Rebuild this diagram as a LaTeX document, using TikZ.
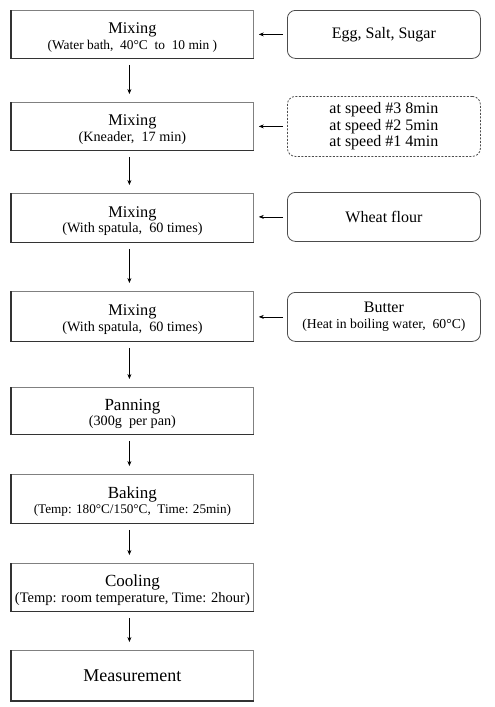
\documentclass[tikz,border=0pt]{standalone}
\usepackage{fontspec}
\setmainfont{Liberation Serif}
\usetikzlibrary{arrows.meta}
\begin{document}
\begin{tikzpicture}[x=1pt,y=-1pt,
  lbox/.style={draw=black!50,line width=0.8pt,minimum width=242pt,inner sep=0pt,align=center,anchor=north west,
    font=\fontsize{14.2}{15.5}\selectfont},
  rbox/.style={draw=black!70,line width=0.8pt,rounded corners=8pt,minimum width=193pt,inner sep=0pt,align=center,anchor=north west,
    font=\fontsize{16}{16.5}\selectfont},
  edge/.style={draw=black!80,line width=1.1pt},
  flow/.style={-{Stealth[length=5pt,width=4pt]},line width=0.6pt},
]
\useasboundingbox (0,0) rectangle (495,707);
\newcommand{\T}[1]{{\fontsize{17}{17}\selectfont\rule{0pt}{17pt}#1}}
\newcommand{\Tm}[1]{{\fontsize{16.3}{17}\selectfont\rule{0pt}{17pt}#1}}
% left boxes
\node[lbox,minimum height=48pt] (L1) at (11,10) {\Tm{Mixing}\\\fontsize{13.4}{16}\selectfont (Water bath,\ \ 40°C\ \ to\ \ 10 min )};
\node[lbox,minimum height=48pt] (L2) at (11,102) {\Tm{Mixing}\\(Kneader,\ \ 17 min)};
\node[lbox,minimum height=49pt] (L3) at (11,193) {\Tm{Mixing}\\(With spatula,\ \ 60 times)};
\node[lbox,minimum height=50pt] (L4) at (11,291) {\Tm{Mixing}\\(With spatula,\ \ 60 times)};
\node[lbox,minimum height=47pt] (L5) at (11,387) {\T{Panning}\\(300g\ \ per pan)};
\node[lbox,minimum height=49pt] (L6) at (11,474) {\T{Baking}\\\fontsize{13.2}{15}\selectfont (Temp: 180°C/150°C,\ \ Time: 25min)};
\node[lbox,minimum height=48pt] (L7) at (11,563) {\T{Cooling}\\\fontsize{14.5}{15.5}\selectfont (Temp: room temperature, Time: 2hour)};
\node[lbox,minimum height=50pt] (L8) at (11,650) {{\fontsize{18}{19}\selectfont Measurement}};
\foreach \n in {L1,L2,L3,L4,L5,L6,L7}
  \draw[edge] (\n.north west) -- (\n.south west) -- (\n.south east);
\draw[edge,line width=2pt] (L8.north west) -- (L8.south west) -- (L8.south east);
% right boxes
\node[rbox,minimum height=48pt] (R1) at (287,10) {Egg, Salt, Sugar};
\node[rbox,minimum height=60pt,dashed,dash pattern=on 2pt off 1.5pt] (R2) at (287,96) {at speed \#3 8min\\at speed \#2 5min\\at speed \#1 4min};
\node[rbox,minimum height=49pt] (R3) at (287,192) {Wheat flour};
\node[rbox,minimum height=49pt] (R4) at (287,292) {Butter\\\fontsize{13.7}{18}\selectfont (Heat in boiling water,\ \ 60°C)};
% vertical arrows
\foreach \a/\b in {L1/L2,L2/L3,L3/L4,L4/L5,L5/L6,L6/L7,L7/L8}
  \draw[flow,shorten <=6pt,shorten >=8pt] ([xshift=-3pt]\a.south) -- ([xshift=-3pt]\b.north);
% horizontal arrows
\foreach \r/\l in {R1/L1,R2/L2,R3/L3,R4/L4}
  \draw[flow,shorten <=4pt,shorten >=5pt] (\r.west) -- (\r.west -| \l.east);
\end{tikzpicture}
\end{document}
